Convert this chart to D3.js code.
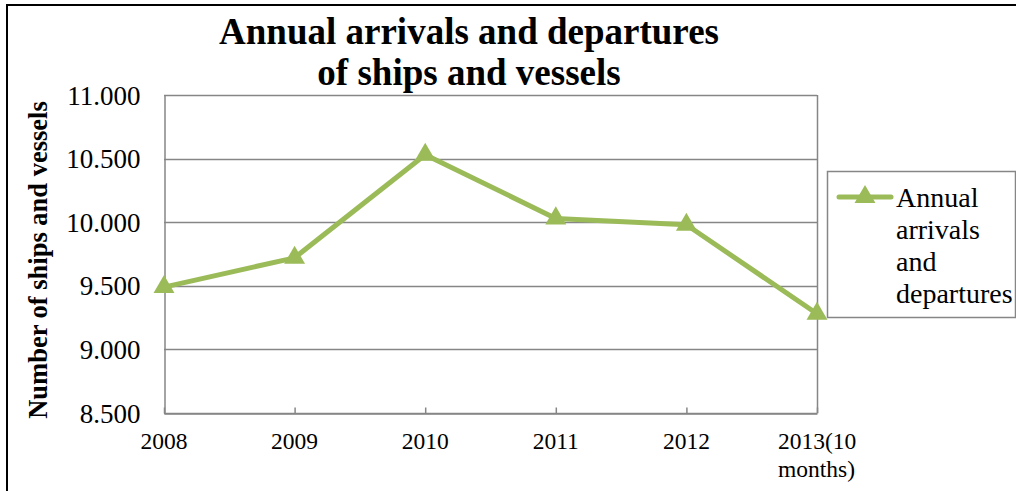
<!DOCTYPE html>
<html>
<head>
<meta charset="utf-8">
<script src="https://cdn.jsdelivr.net/npm/d3@7"></script>
<style>
  html, body { margin: 0; padding: 0; background: #fff; }
  svg { display: block; }
  svg text { font-family: "Liberation Serif", "Times New Roman", serif !important; fill: #000; }
</style>
</head>
<body>
<svg id="chart" width="1016" height="491"></svg>
<script>
const categories = ["2008", "2009", "2010", "2011", "2012", "2013(10 months)"];
const categoryLines = [["2008"], ["2009"], ["2010"], ["2011"], ["2012"], ["2013(10", "months)"]];
const values = [9490, 9720, 10530, 10030, 9980, 9280];
const yTicks = [8500, 9000, 9500, 10000, 10500, 11000];
const yTickLabels = ["8.500", "9.000", "9.500", "10.000", "10.500", "11.000"];
const titleLines = ["Annual arrivals and departures", "of ships and vessels"];
const yAxisTitle = "Number of ships and vessels";
const seriesName = ["Annual", "arrivals", "and", "departures"];

const green = "#9BBB59";
const gridColor = "#868686";

const svg = d3.select("#chart");
const plot = { left: 164, top: 95, right: 817, bottom: 413 };

// outer border (top and left)
svg.append("line").attr("x1", 6).attr("x2", 1016).attr("y1", 5).attr("y2", 5)
  .attr("stroke", "#000").attr("stroke-width", 2);
svg.append("line").attr("x1", 7).attr("x2", 7).attr("y1", 5).attr("y2", 491)
  .attr("stroke", "#000").attr("stroke-width", 2);

const x = d3.scalePoint().domain(categories).range([plot.left, plot.right]);
const y = d3.scaleLinear().domain([8500, 11000]).range([plot.bottom, plot.top]);

// gridlines
svg.append("g").selectAll("line").data(yTicks).join("line")
  .attr("x1", plot.left).attr("x2", plot.right)
  .attr("y1", d => Math.round(y(d)) + 0.5).attr("y2", d => Math.round(y(d)) + 0.5)
  .attr("stroke", gridColor).attr("stroke-width", 1.5);

// plot border right
svg.append("line").attr("x1", plot.right + 0.5).attr("x2", plot.right + 0.5)
  .attr("y1", plot.top).attr("y2", plot.bottom)
  .attr("stroke", gridColor).attr("stroke-width", 1.5);

// y axis
const yAxis = d3.axisLeft(y).tickValues(yTicks)
  .tickFormat((d, i) => yTickLabels[i]).tickSize(0).tickPadding(24);
const gy = svg.append("g").attr("transform", `translate(${plot.left + 0.5},0)`).call(yAxis);
gy.attr("font-family", null).attr("font-size", null);
gy.select(".domain").attr("stroke", gridColor).attr("stroke-width", 1.5);
gy.selectAll("text").style("font-size", "27px").attr("dy", "0.34em");

// x axis
const xAxis = d3.axisBottom(x).tickSize(6).tickSizeOuter(0).tickFormat("");
const gx = svg.append("g").attr("transform", `translate(0,${plot.bottom + 0.5})`).call(xAxis);
gx.select(".domain").attr("stroke", gridColor).attr("stroke-width", 1.5);
gx.selectAll(".tick line").attr("stroke", gridColor).attr("stroke-width", 1.5).attr("y2", -6);

// x labels
const xl = svg.append("g").selectAll("text").data(categories).join("text")
  .attr("y", 449)
  .style("font-size", "23.5px");
xl.each(function(d, i) {
  const t = d3.select(this);
  const lines = categoryLines[i];
  const multi = lines.length > 1;
  t.attr("text-anchor", multi ? "start" : "middle");
  lines.forEach((l, j) => {
    t.append("tspan").attr("x", multi ? x(d) - 39 : x(d)).attr("dy", j === 0 ? 0 : 28).text(l);
  });
});

// line
const line = d3.line().x((d, i) => x(categories[i])).y(d => y(d));
svg.append("path").datum(values).attr("d", line)
  .attr("fill", "none").attr("stroke", green).attr("stroke-width", 5)
  .attr("stroke-linejoin", "round").attr("stroke-linecap", "round");

// markers
const tri = d3.symbol().type(d3.symbolTriangle).size(190);
svg.append("g").selectAll("path").data(values).join("path")
  .attr("d", tri)
  .attr("transform", (d, i) => `translate(${x(categories[i])},${y(d)})`)
  .attr("fill", green);

// title
svg.append("text").attr("x", 469).attr("y", 44).attr("text-anchor", "middle")
  .style("font-size", "37px").style("font-weight", "bold")
  .selectAll("tspan").data(titleLines).join("tspan")
  .attr("x", 469).attr("dy", (d, i) => i === 0 ? 0 : 41).text(d => d);

// y axis title
svg.append("text").attr("transform", "translate(47,260) rotate(-90)")
  .attr("text-anchor", "middle").style("font-size", "26.5px").style("font-weight", "bold")
  .text(yAxisTitle);

// legend
const lg = svg.append("g");
lg.append("rect").attr("x", 827.5).attr("y", 171.5).attr("width", 188).attr("height", 146)
  .attr("fill", "#fff").attr("stroke", gridColor).attr("stroke-width", 1.5);
lg.append("line").attr("x1", 839).attr("x2", 891).attr("y1", 197).attr("y2", 197)
  .attr("stroke", green).attr("stroke-width", 5).attr("stroke-linecap", "round");
lg.append("path").attr("d", tri).attr("transform", "translate(865,197)").attr("fill", green);
lg.append("text").attr("x", 896).attr("y", 207).style("font-size", "28px")
  .selectAll("tspan").data(seriesName).join("tspan")
  .attr("x", 896).attr("dy", (d, i) => i === 0 ? 0 : 32).text(d => d);
</script>
</body>
</html>
